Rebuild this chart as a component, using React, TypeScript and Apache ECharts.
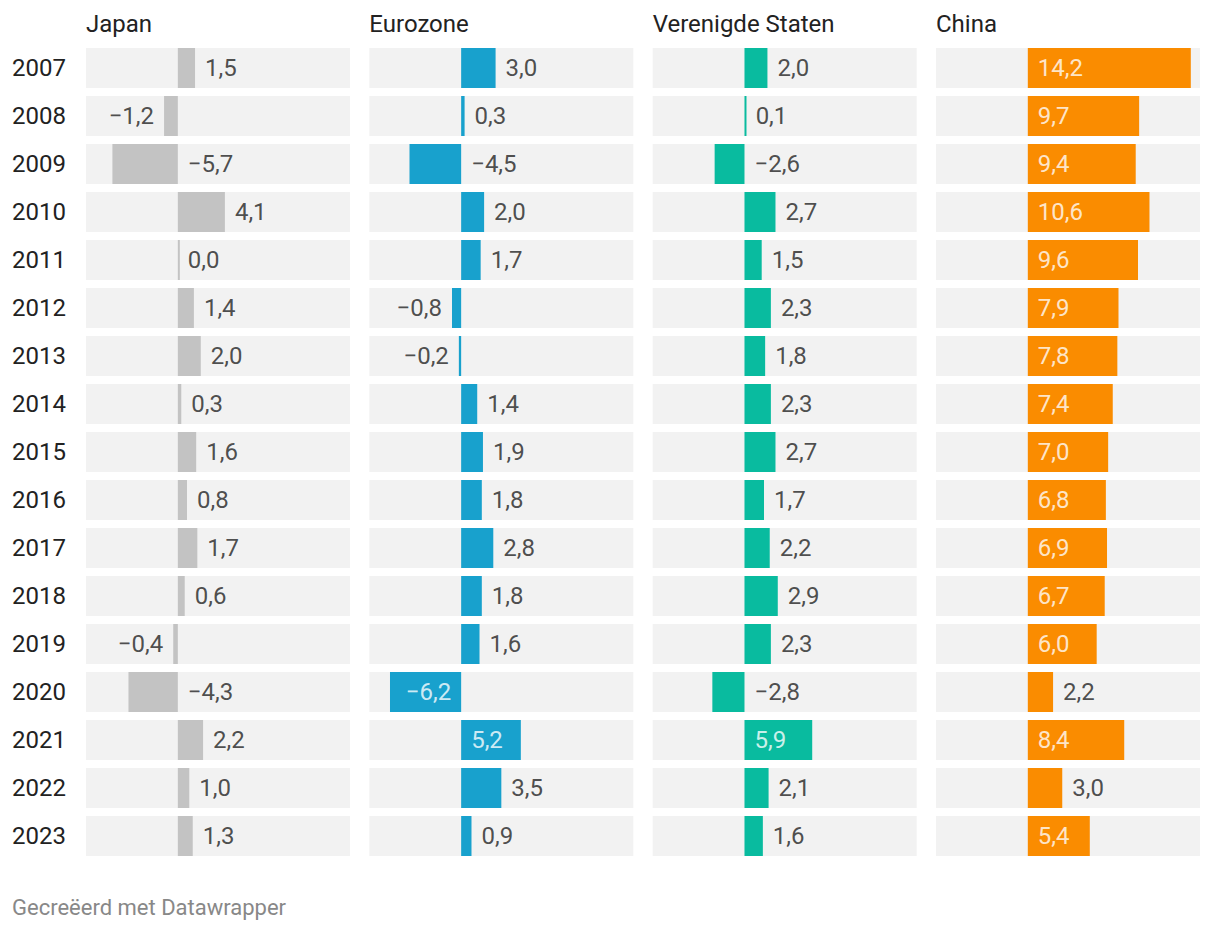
import React, { useEffect, useRef } from "react";
import * as echarts from "echarts";

const years = ["2007","2008","2009","2010","2011","2012","2013","2014","2015","2016","2017","2018","2019","2020","2021","2022","2023"];
const panelTitles = ["Japan", "Eurozone", "Verenigde Staten", "China"];
const japan = [1.5, -1.2, -5.7, 4.1, 0.0, 1.4, 2.0, 0.3, 1.6, 0.8, 1.7, 0.6, -0.4, -4.3, 2.2, 1.0, 1.3];
const eurozone = [3.0, 0.3, -4.5, 2.0, 1.7, -0.8, -0.2, 1.4, 1.9, 1.8, 2.8, 1.8, 1.6, -6.2, 5.2, 3.5, 0.9];
const usa = [2.0, 0.1, -2.6, 2.7, 1.5, 2.3, 1.8, 2.3, 2.7, 1.7, 2.2, 2.9, 2.3, -2.8, 5.9, 2.1, 1.6];
const china = [14.2, 9.7, 9.4, 10.6, 9.6, 7.9, 7.8, 7.4, 7.0, 6.8, 6.9, 6.7, 6.0, 2.2, 8.4, 3.0, 5.4];
const footerText = "Gecreëerd met Datawrapper";

const seriesValues = [japan, eurozone, usa, china];
const colors = ["#c3c3c3", "#18a1cd", "#09bb9f", "#fa8c00"];

const FONT = "Roboto, sans-serif";
const TEXT = "#222";
const FS = 24;
const X_MIN = -8;
const X_MAX = 15;
const PANEL_LEFT = 86;
const PANEL_STEP = 283.33;
const PANEL_W = 264;
const GRID_TOP = 44;
const ROW_H = 48;

const fmt = (v: number) => (v < 0 ? "\u2212" : "") + Math.abs(v).toFixed(1).replace(".", ",");

function labelItem(v: number, i: number) {
  const y = years[i];
  if (v >= 5) {
    return { value: [0, y], label: { position: "right", color: "#fff" } };
  }
  if (v >= 0) {
    return { value: [v, y], label: { position: "right", color: TEXT } };
  }
  if (v <= -6) {
    return { value: [0, y], label: { position: "left", color: "#fff" } };
  }
  if (v <= -2) {
    return { value: [0, y], label: { position: "right", color: TEXT } };
  }
  return { value: [v, y], label: { position: "left", color: TEXT } };
}

export default function App() {
  const ref = useRef<HTMLDivElement>(null);
  useEffect(() => {
    if (!ref.current) return;
    const chart = echarts.init(ref.current, undefined, { renderer: "svg" });
    const grids: any[] = [];
    const xAxes: any[] = [];
    const yAxes: any[] = [];
    const series: any[] = [];
    const graphics: any[] = [];
    seriesValues.forEach((vals, p) => {
      const left = PANEL_LEFT + p * PANEL_STEP;
      grids.push({ left, top: GRID_TOP, width: PANEL_W, height: ROW_H * years.length });
      xAxes.push({
        type: "value", gridIndex: p, min: X_MIN, max: X_MAX, show: false,
        splitLine: { show: false },
      });
      yAxes.push({
        type: "category", gridIndex: p, data: years, inverse: true,
        axisLine: { show: false }, axisTick: { show: false },
        axisLabel: p === 0
          ? { show: true, align: "left", margin: 74, fontSize: FS, color: TEXT, fontFamily: FONT }
          : { show: false },
      });
      series.push({
        type: "bar", xAxisIndex: p, yAxisIndex: p, data: vals, barWidth: 40,
        barMinHeight: 2,
        showBackground: true, backgroundStyle: { color: "#f2f2f2" },
        itemStyle: { color: colors[p] }, silent: true,
      });
      series.push({
        type: "scatter", xAxisIndex: p, yAxisIndex: p, symbolSize: 0, silent: true,
        data: vals.map((v, i) => labelItem(v, i)),
        label: {
          show: true, distance: 10, fontSize: FS, fontFamily: FONT,
          formatter: (prm: any) => fmt(vals[prm.dataIndex]),
        },
        z: 5,
      });
      graphics.push({
        type: "text", left: left, top: 12,
        style: { text: panelTitles[p], fontSize: FS, fontFamily: FONT, fill: TEXT },
      });
    });
    graphics.push({
      type: "text", left: 12, top: 896,
      style: { text: footerText, fontSize: 22, fontFamily: FONT, fill: "#888" },
    });
    chart.setOption({
      animation: false,
      grid: grids,
      xAxis: xAxes,
      yAxis: yAxes,
      series,
      graphic: graphics,
    });
    return () => chart.dispose();
  }, []);
  return <div ref={ref} style={{ position: "fixed", left: 0, top: 0, width: 1220, height: 932, background: "#fff" }} />;
}
